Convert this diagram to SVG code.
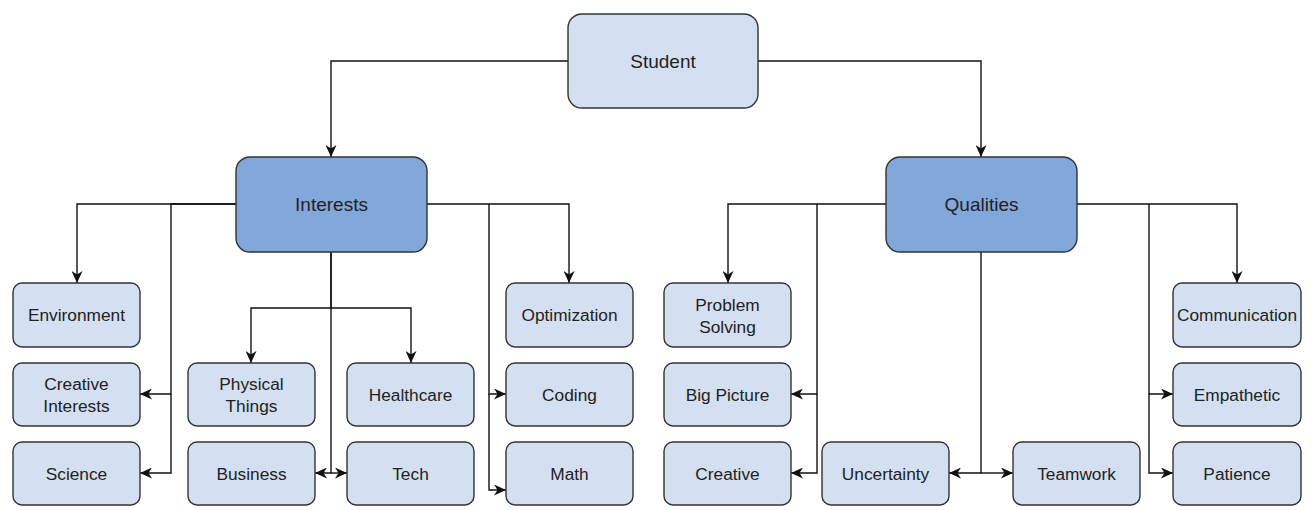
<svg xmlns="http://www.w3.org/2000/svg" width="1316" height="510" viewBox="0 0 1316 510">
<defs>
<style>
.n{fill:#d4e0f1;stroke:#333;stroke-width:1.4}
.b{fill:#82a7db;stroke:#333;stroke-width:1.4}
.t{font-family:"Liberation Sans",Arial,sans-serif;font-size:17.3px;fill:#222;text-anchor:middle;dominant-baseline:central}
.tb{font-size:19px}
.e{fill:none;stroke:#111;stroke-width:1.4}
</style>
<marker id="a" markerUnits="userSpaceOnUse" markerWidth="13" markerHeight="11" refX="12" refY="5.5" orient="auto" viewBox="0 0 13 11">
<path d="M0,0 L12,5.5 L0,11 L3.5,5.5 z" fill="#111"/>
</marker>
</defs>
<rect width="1316" height="510" fill="#fff"/>
<g id="connectors">
<path class="e" marker-end="url(#a)" d="M568,61 H331 V157"/>
<path class="e" marker-end="url(#a)" d="M758,61 H981 V157"/>
<path class="e" marker-end="url(#a)" d="M236,204 H77 V283"/>
<path class="e" marker-end="url(#a)" d="M236,204 H171 V394 H140"/>
<path class="e" marker-end="url(#a)" d="M171,394 V473 H140"/>
<path class="e" marker-end="url(#a)" d="M331,252 V308 H251 V363"/>
<path class="e" marker-end="url(#a)" d="M331,308 H411 V363"/>
<path class="e" marker-end="url(#a)" d="M331,252 V473 H315"/>
<path class="e" marker-end="url(#a)" d="M331,473 H347"/>
<path class="e" marker-end="url(#a)" d="M427,204 H569 V283"/>
<path class="e" marker-end="url(#a)" d="M489,204 V394 H506"/>
<path class="e" marker-end="url(#a)" d="M489,394 V490 H506"/>
<path class="e" marker-end="url(#a)" d="M886,204 H728 V283"/>
<path class="e" marker-end="url(#a)" d="M817,204 V394 H791"/>
<path class="e" marker-end="url(#a)" d="M817,394 V473 H791"/>
<path class="e" marker-end="url(#a)" d="M981,252 V473 H949"/>
<path class="e" marker-end="url(#a)" d="M981,473 H1013"/>
<path class="e" marker-end="url(#a)" d="M1077,204 H1237 V283"/>
<path class="e" marker-end="url(#a)" d="M1149,204 V394 H1173"/>
<path class="e" marker-end="url(#a)" d="M1149,394 V473 H1173"/>
</g>
<g id="student"><rect class="n" x="568" y="14" width="190" height="94" rx="14"/><text class="t tb" x="663" y="61">Student</text></g>
<g id="interests"><rect class="b" x="236" y="157" width="191" height="95" rx="14"/><text class="t tb" x="331.5" y="204.5">Interests</text></g>
<g id="qualities"><rect class="b" x="886" y="157" width="191" height="95" rx="14"/><text class="t tb" x="981.5" y="204.5">Qualities</text></g>
<g id="environment"><rect class="n" x="13" y="283" width="127" height="64" rx="9"/><text class="t" x="76.5" y="315">Environment</text></g>
<g id="creative-interests"><rect class="n" x="13" y="363" width="127" height="63" rx="9"/><text class="t" x="76.5" y="384">Creative</text><text class="t" x="76.5" y="406">Interests</text></g>
<g id="science"><rect class="n" x="13" y="442" width="127" height="63" rx="9"/><text class="t" x="76.5" y="474">Science</text></g>
<g id="physical-things"><rect class="n" x="188" y="363" width="127" height="63" rx="9"/><text class="t" x="251.5" y="384">Physical</text><text class="t" x="251.5" y="406">Things</text></g>
<g id="healthcare"><rect class="n" x="347" y="363" width="127" height="63" rx="9"/><text class="t" x="410.5" y="395">Healthcare</text></g>
<g id="business"><rect class="n" x="188" y="442" width="127" height="63" rx="9"/><text class="t" x="251.5" y="474">Business</text></g>
<g id="tech"><rect class="n" x="347" y="442" width="127" height="63" rx="9"/><text class="t" x="410.5" y="474">Tech</text></g>
<g id="optimization"><rect class="n" x="506" y="283" width="127" height="64" rx="9"/><text class="t" x="569.5" y="315">Optimization</text></g>
<g id="coding"><rect class="n" x="506" y="363" width="127" height="63" rx="9"/><text class="t" x="569.5" y="395">Coding</text></g>
<g id="math"><rect class="n" x="506" y="442" width="127" height="63" rx="9"/><text class="t" x="569.5" y="474">Math</text></g>
<g id="problem-solving"><rect class="n" x="664" y="283" width="127" height="64" rx="9"/><text class="t" x="727.5" y="305">Problem</text><text class="t" x="727.5" y="327">Solving</text></g>
<g id="big-picture"><rect class="n" x="664" y="363" width="127" height="63" rx="9"/><text class="t" x="727.5" y="395">Big Picture</text></g>
<g id="creative"><rect class="n" x="664" y="442" width="127" height="63" rx="9"/><text class="t" x="727.5" y="474">Creative</text></g>
<g id="uncertainty"><rect class="n" x="822" y="442" width="127" height="63" rx="9"/><text class="t" x="885.5" y="474">Uncertainty</text></g>
<g id="teamwork"><rect class="n" x="1013" y="442" width="127" height="63" rx="9"/><text class="t" x="1076.5" y="474">Teamwork</text></g>
<g id="communication"><rect class="n" x="1173" y="283" width="128" height="64" rx="9"/><text class="t" x="1237" y="315">Communication</text></g>
<g id="empathetic"><rect class="n" x="1173" y="363" width="128" height="63" rx="9"/><text class="t" x="1237" y="395">Empathetic</text></g>
<g id="patience"><rect class="n" x="1173" y="442" width="128" height="63" rx="9"/><text class="t" x="1237" y="474">Patience</text></g>
</svg>
